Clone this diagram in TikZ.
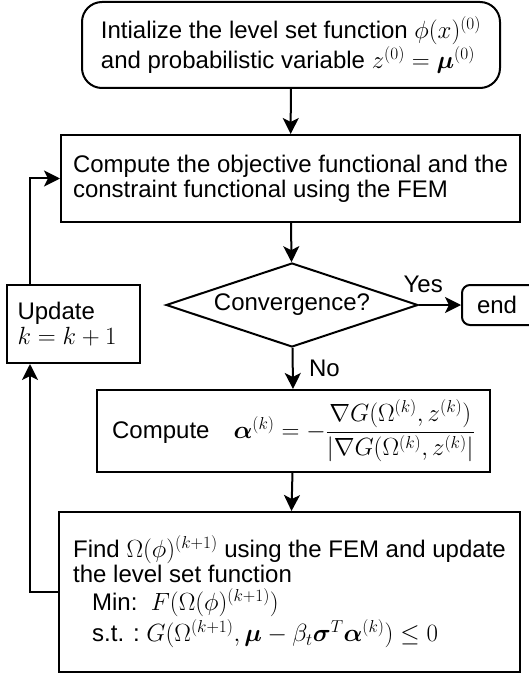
\documentclass[tikz,border=0pt]{standalone}
\usepackage{amsmath, amssymb}
\usepackage{fontspec}
\setmainfont{Liberation Sans}
\usetikzlibrary{arrows.meta, shapes.geometric}

\begin{document}
\begin{tikzpicture}[x = 1pt, y = -1pt]
\tikzstyle{every node}=[font = \fontsize{24}{25}\selectfont]
\tikzstyle{BoxStyle}=[
shape = rectangle,
draw,
line width = 2pt,
align = left,
inner sep = 0pt]
\tikzstyle{post}=[line width = 2pt, -{Stealth[length = 16pt, width = 16pt, inset = 4pt]}]
\useasboundingbox (0, 0) rectangle (529, 676);
\node[BoxStyle, rounded corners = 20pt, minimum width = 418pt, minimum height = 86pt] (init) at (291, 45)
{Intialize the level set function $\phi(x)^{(0)}$\\and probabilistic variable $z^{(0)} = \boldsymbol{\mu}^{(0)}$};
\node[BoxStyle, minimum width = 459pt, minimum height = 87pt] (fem) at (290.5, 178.5)
{Compute the objective functional and the\\constraint functional using the FEM};
\node[BoxStyle, shape = diamond, shape aspect = 3, minimum width = 252pt, minimum height = 84pt] (conv) at (292, 305)
{Convergence?};
\node[BoxStyle, rounded corners = 8pt, minimum width = 100pt, minimum height = 40pt, text width = 70pt] (fin) at (512, 305)
{end};
\node[BoxStyle, minimum width = 133pt, minimum height = 78pt, text width = 112pt] (upd) at (73.5, 324)
{Update\\$k = k + 1$};
\node[BoxStyle, minimum width = 393pt, minimum height = 82pt] (alpha) at (293.5, 431)
{Compute\quad $\boldsymbol{\alpha}^{(k)} = -\dfrac{\nabla G(\Omega^{(k)}, z^{(k)})}{|\nabla G(\Omega^{(k)}, z^{(k)}|}$};
\node[BoxStyle, minimum width = 461pt, minimum height = 160pt] (find) at (289.5, 592)
{Find $\Omega(\phi)^{(k+1)}$ using the FEM and update\\the level set function\\[3pt]
\hspace{19pt}Min:\ \ $F(\Omega(\phi)^{(k+1)})$\\[2pt]
\hspace{19pt}s.t. :\ $G(\Omega^{(k+1)}, \boldsymbol{\mu} - \beta_t \boldsymbol{\sigma}^T \boldsymbol{\alpha}^{(k)}) \leq 0$};
\coordinate (back) at (30, 0);
\draw[post] (init) -- (fem);
\draw[post] (fem) -- (conv);
\draw[post] (conv) -- node[above = 8pt, pos = 0.1] {Yes} (fin);
\draw[post] (conv) -- node[right = 12pt] {No} (alpha);
\draw[post] (alpha) -- (find);
\draw[post] (find.west) -| (back |- upd.south);
\draw[post] (back |- upd.north) |- (fem.west);
\end{tikzpicture}
\end{document}
